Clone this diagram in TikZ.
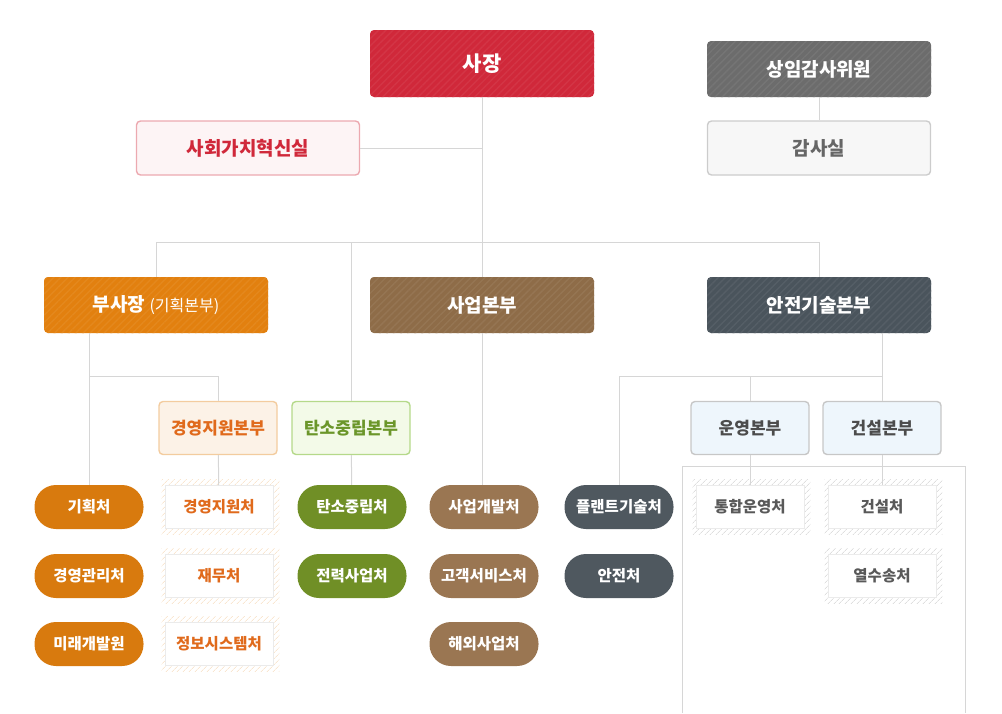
\documentclass[tikz,border=0pt]{standalone}
\usepackage{fontspec}
\setmainfont{Noto Sans CJK KR}
\usepackage{xcolor}
\usepackage{tikz}
\usetikzlibrary{positioning, patterns.meta, backgrounds, calc}

\definecolor{ceored}{HTML}{D0283A}
\definecolor{auditgray}{HTML}{6C6C6C}
\definecolor{vporange}{HTML}{E2800F}
\definecolor{bizbrown}{HTML}{8E6C48}
\definecolor{safeslate}{HTML}{4A545C}
\definecolor{pillorange}{HTML}{D87A0E}
\definecolor{pillgreen}{HTML}{708F26}
\definecolor{pillbrown}{HTML}{9A7652}
\definecolor{pillslate}{HTML}{4F585F}
\definecolor{linegray}{HTML}{D6D6D6}
\definecolor{mgmttext}{HTML}{E06A1C}
\definecolor{opsfill}{HTML}{EEF6FC}
\definecolor{carbonfill}{HTML}{F3FAE8}
\definecolor{carbonline}{HTML}{B5D98A}
\definecolor{carbontext}{HTML}{6B962A}

\begin{document}
\begin{tikzpicture}[
    x=1pt, y=-1pt,
    font=\bfseries,
    link/.style={linegray, line width=1pt},
    headbox/.style={rectangle, rounded corners=4pt, inner sep=0pt, minimum width=224pt, minimum height=56pt,
        text=white, font=\fontsize{19}{21}\selectfont\bfseries, fill=#1,
        postaction={pattern={Lines[angle=45, distance=5pt, line width=1.4pt]}, pattern color=#1!94!white}},
    lightbox/.style n args={3}{rectangle, rounded corners=4pt, inner sep=0pt, draw=#2, line width=1.4pt,
        fill=#1, text=#3},
    subbox/.style={minimum width=118pt, minimum height=53pt, font=\fontsize{17}{19}\selectfont\bfseries},
    pill/.style={rectangle, rounded corners=21.5pt, inner sep=0pt, minimum width=109pt, minimum height=44pt,
        fill=#1, text=white, font=\fontsize{15.5}{17}\selectfont\bfseries},
    deptbox/.style={rectangle, inner sep=0pt, minimum width=108pt, minimum height=43pt, fill=white,
        draw=black!8, line width=0.6pt, text=#1, font=\fontsize{15.5}{17}\selectfont\bfseries}
]
\useasboundingbox (0,0) rectangle (1002,713);

% Top level
\node[headbox=ceored, minimum height=67pt, font=\fontsize{21}{23}\selectfont\bfseries] (ceo) at (482,63.5) {사장};
\node[headbox=auditgray] (auditor) at (819,69) {상임감사위원};
\node[lightbox={black!3}{black!20}{black!60}, minimum width=223pt, minimum height=54pt,
    font=\fontsize{19}{21}\selectfont\bfseries] (auditoff) at (819,148) {감사실};
\node[lightbox={ceored!5}{ceored!40}{ceored}, minimum width=223pt, minimum height=54pt,
    font=\fontsize{19}{21}\selectfont\bfseries] (social) at (248,148) {사회가치혁신실};

% Divisions
\node[headbox=vporange] (vp) at (156,305) {부사장 {\fontsize{16}{18}\selectfont\mdseries(기획본부)}};
\node[headbox=bizbrown] (biz) at (482,305) {사업본부};
\node[headbox=safeslate] (safety) at (819,305) {안전기술본부};

% Sub divisions
\node[lightbox={vporange!10}{vporange!40}{mgmttext}, subbox] (mgmt) at (218,428) {경영지원본부};
\node[lightbox={carbonfill}{carbonline}{carbontext}, subbox] (carbon) at (351,428) {탄소중립본부};
\node[lightbox={opsfill}{black!22}{black!70}, subbox] (ops) at (750,428) {운영본부};
\node[lightbox={opsfill}{black!22}{black!70}, subbox] (build) at (882,428) {건설본부};

% Offices
\node[pill=pillorange] (plan) at (89,507) {기획처};
\node[pill=pillorange] (mgmtctl) at (89,576) {경영관리처};
\node[pill=pillorange] (future) at (89,644) {미래개발원};
\node[deptbox=mgmttext] (mgmtsup) at (219,507) {경영지원처};
\node[deptbox=mgmttext] (finance) at (219,576) {재무처};
\node[deptbox=mgmttext] (infosys) at (219,644) {정보시스템처};
\node[pill=pillgreen] (neutral) at (352,507) {탄소중립처};
\node[pill=pillgreen] (power) at (352,576) {전력사업처};
\node[pill=pillbrown] (bizdev) at (484,507) {사업개발처};
\node[pill=pillbrown] (service) at (484,576) {고객서비스처};
\node[pill=pillbrown] (overseas) at (484,644) {해외사업처};
\node[pill=pillslate] (plant) at (619,507) {플랜트기술처};
\node[pill=pillslate] (safe) at (619,576) {안전처};
\node[deptbox=black!65] (integ) at (750,507) {통합운영처};
\node[deptbox=black!65] (constr) at (882,507) {건설처};
\node[deptbox=black!65] (heat) at (882,576) {열수송처};

% Hatched frames
\begin{scope}[on background layer]
\foreach \n/\c in {mgmtsup/vporange!30, finance/vporange!30, infosys/vporange!30,
                   integ/black!20, constr/black!20, heat/black!20} {
    \fill[pattern={Lines[angle=45, distance=4pt, line width=0.6pt]}, pattern color=\c]
        ($(\n.south west)+(-3,6)$) rectangle ($(\n.north east)+(6,-6)$);
}
\draw[linegray, line width=1pt] (682,713) -- (682,466) -- (965,466) -- (965,713);
\end{scope}

% Lines
\coordinate (bar) at (0,242);
\coordinate (split) at (0,376);
\draw[link] (ceo) -- (biz);
\draw[link] (social) -- (social.east -| ceo.south);
\draw[link] (auditor) -- (auditoff);
\draw[link] (vp.north) |- (safety.north |- bar) -- (safety.north);
\draw[link] (carbon.north |- bar) -- (carbon.north);
\draw[link] (plan.north |- vp.south) -- (plan.north);
\draw[link] (plan.north |- split) -| (mgmt.north);
\draw[link] (mgmt) -- (mgmtsup);
\draw[link] (carbon) -- (neutral);
\draw[link] (biz.south) -- (bizdev.north -| biz.south);
\draw[link] (build.north |- safety.south) -- (build.north);
\draw[link] (plant.north) |- (build.north |- split);
\draw[link] (ops.north |- split) -- (ops.north);
\draw[link] (ops) -- (integ);
\draw[link] (build) -- (constr);

\end{tikzpicture}
\end{document}
